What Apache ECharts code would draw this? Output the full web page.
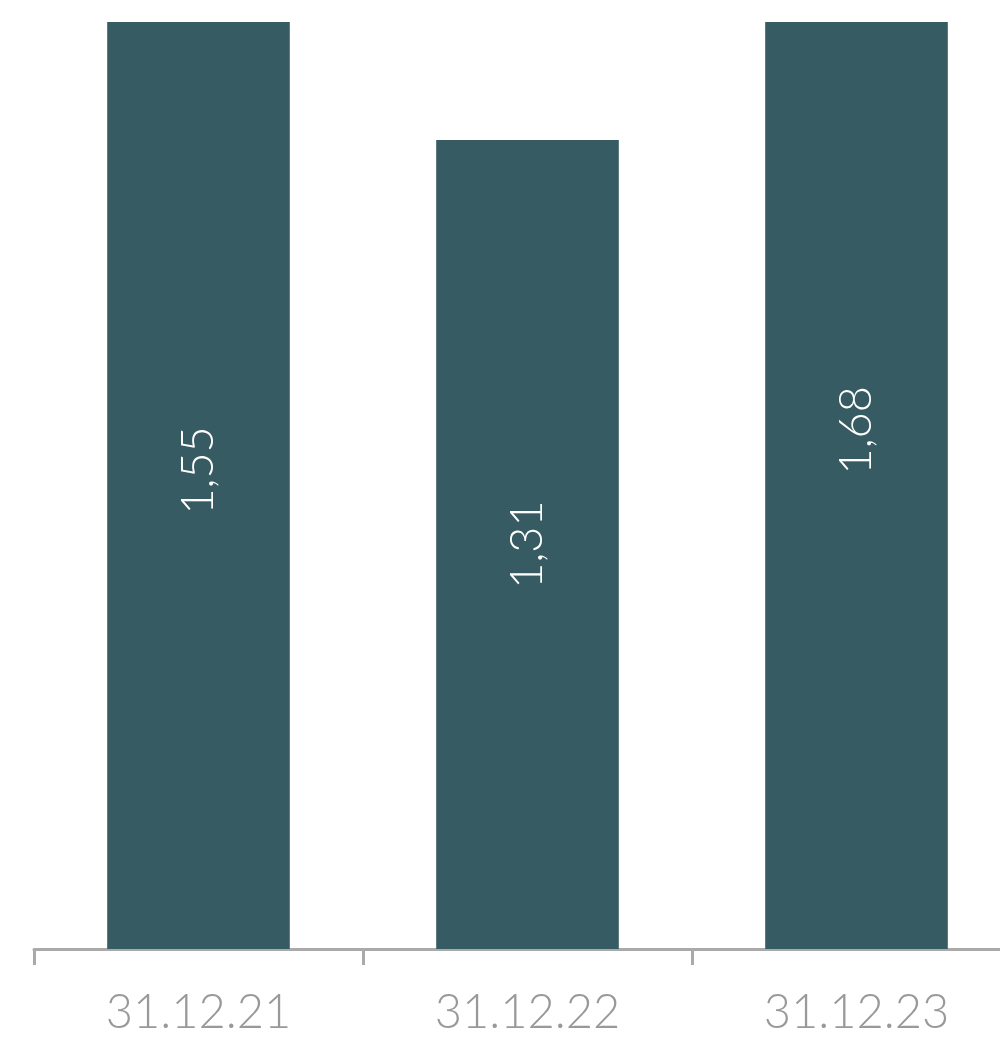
<!DOCTYPE html>
<html><head><meta charset="utf-8">
<style>html,body{margin:0;padding:0;background:#fff}#c{width:1000px;height:1043px}</style>
<script src="https://cdn.jsdelivr.net/npm/echarts@6/dist/echarts.min.js"></script>
</head><body><div id="c"></div>
<script>
const categories = ['31.12.21', '31.12.22', '31.12.23'];
const values = [1.55, 1.31, 1.68];

const chart = echarts.init(document.getElementById('c'));
chart.setOption({
  animation: false,
  grid: { left: 34, right: -21, top: 22.8, bottom: 94, containLabel: false, outerBoundsMode: 'none' },
  xAxis: {
    type: 'category',
    data: categories,
    axisLine: { lineStyle: { color: '#aaaaaa', width: 3 } },
    axisTick: { show: true, length: 16, lineStyle: { color: '#aaaaaa', width: 3 } },
    axisLabel: { color: '#999999', fontFamily: 'Lato', fontWeight: 300, fontSize: 47, margin: 40 }
  },
  yAxis: {
    type: 'value', min: 0, max: 1.5, show: false, splitLine: { show: false }
  },
  series: [{
    type: 'bar',
    data: values,
    barWidth: '55.5%',
    clip: false,
    itemStyle: { color: '#365b62' },
    label: {
      show: true,
      position: 'inside',
      rotate: 90,
      color: '#ffffff',
      fontFamily: 'Lato',
      fontWeight: 300,
      fontSize: 45,
      formatter: p => p.value.toFixed(2).replace('.', ',')
    }
  }],
  graphic: [{
    type: 'rect', z: 100, left: 0, top: 0,
    shape: { width: 1000, height: 22 },
    style: { fill: '#ffffff' }
  }]
});
</script></body></html>
